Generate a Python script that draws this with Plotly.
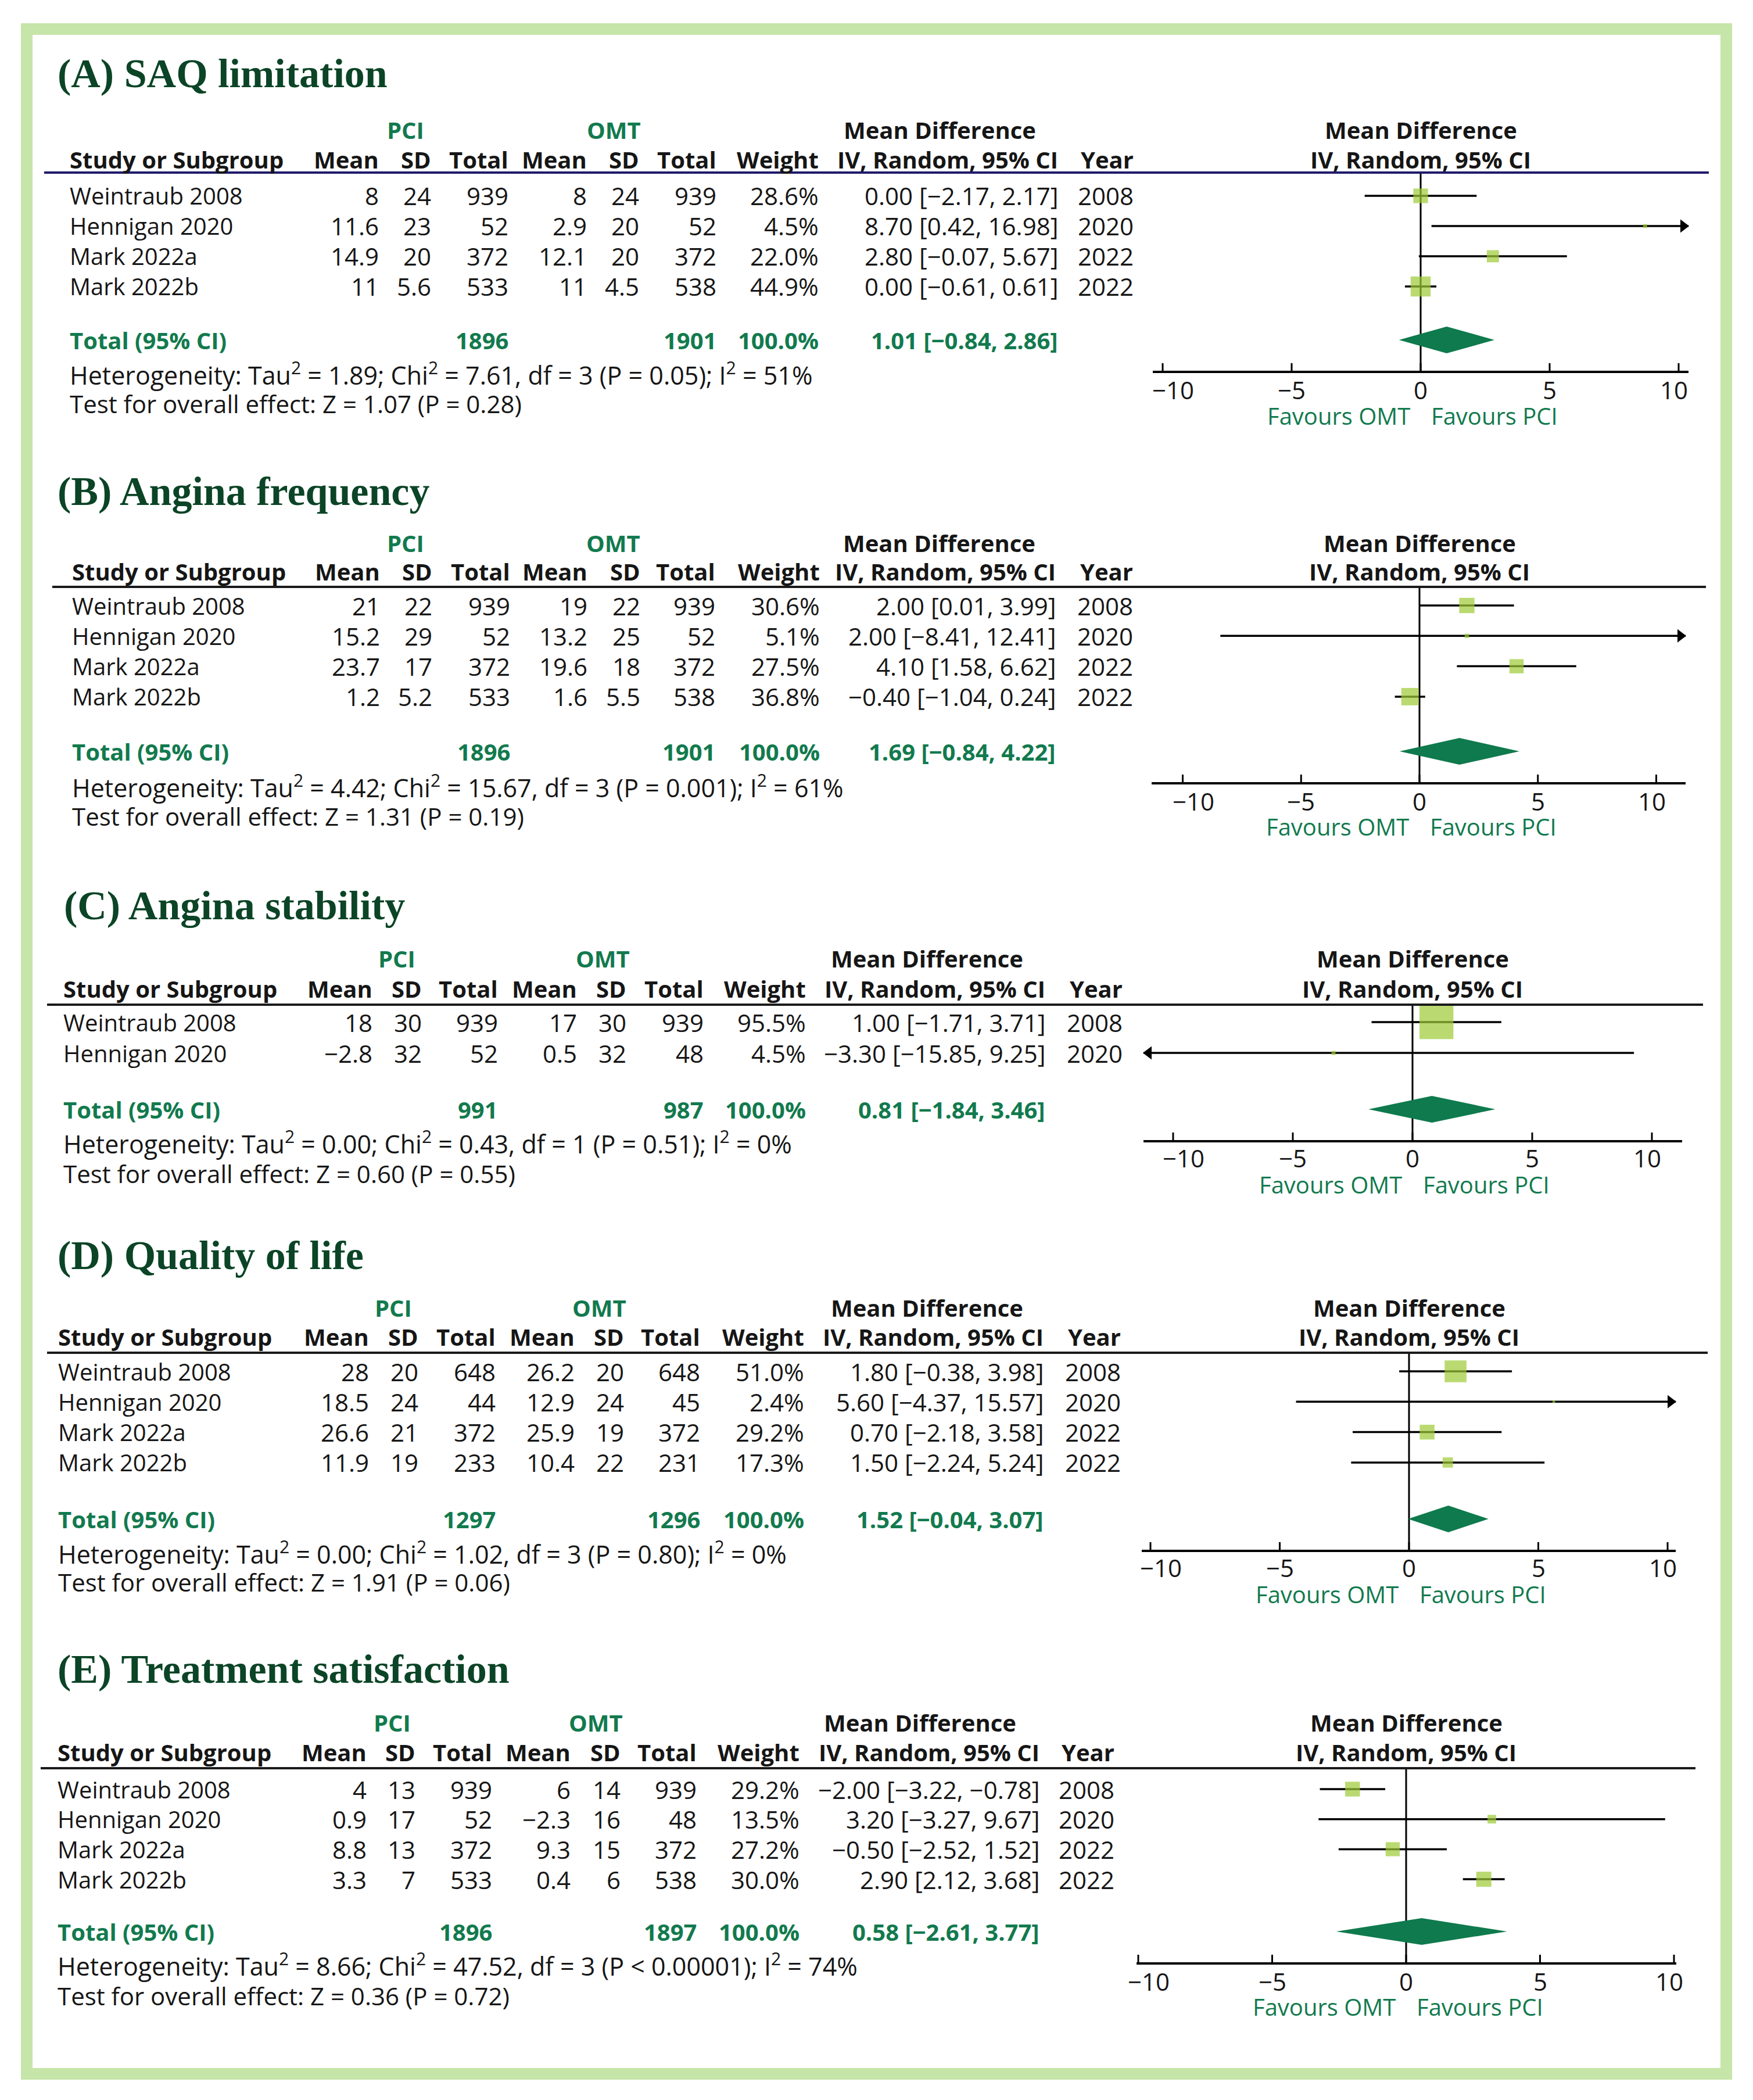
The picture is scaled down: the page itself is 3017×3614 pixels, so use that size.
import plotly.graph_objects as go

W, H = 3017, 3614

# ------------------------------------------------------------------ data
studies4 = ["Weintraub 2008", "Hennigan 2020", "Mark 2022a", "Mark 2022b"]
studies2 = ["Weintraub 2008", "Hennigan 2020"]
years4 = [2008, 2020, 2022, 2022]
years2 = [2008, 2020]
tick_vals = [-10, -5, 0, 5, 10]
tick_text = ["−10", "−5", "0", "5", "10"]

# (A) SAQ limitation
a_title = "(A) SAQ limitation"
a_pci_mean = [8, 11.6, 14.9, 11]
a_pci_sd = [24, 23, 20, 5.6]
a_pci_n = [939, 52, 372, 533]
a_omt_mean = [8, 2.9, 12.1, 11]
a_omt_sd = [24, 20, 20, 4.5]
a_omt_n = [939, 52, 372, 538]
a_weight = [28.6, 4.5, 22.0, 44.9]
a_md = [0.00, 8.70, 2.80, 0.00]
a_lo = [-2.17, 0.42, -0.07, -0.61]
a_hi = [2.17, 16.98, 5.67, 0.61]
a_total = [1896, 1901, 100.0, 1.01, -0.84, 2.86]
a_het = "Heterogeneity: Tau<sup>2</sup> = 1.89; Chi<sup>2</sup> = 7.61, df = 3 (P = 0.05); I<sup>2</sup> = 51%"
a_test = "Test for overall effect: Z = 1.07 (P = 0.28)"

# (B) Angina frequency
b_title = "(B) Angina frequency"
b_pci_mean = [21, 15.2, 23.7, 1.2]
b_pci_sd = [22, 29, 17, 5.2]
b_pci_n = [939, 52, 372, 533]
b_omt_mean = [19, 13.2, 19.6, 1.6]
b_omt_sd = [22, 25, 18, 5.5]
b_omt_n = [939, 52, 372, 538]
b_weight = [30.6, 5.1, 27.5, 36.8]
b_md = [2.00, 2.00, 4.10, -0.40]
b_lo = [0.01, -8.41, 1.58, -1.04]
b_hi = [3.99, 12.41, 6.62, 0.24]
b_total = [1896, 1901, 100.0, 1.69, -0.84, 4.22]
b_het = "Heterogeneity: Tau<sup>2</sup> = 4.42; Chi<sup>2</sup> = 15.67, df = 3 (P = 0.001); I<sup>2</sup> = 61%"
b_test = "Test for overall effect: Z = 1.31 (P = 0.19)"

# (C) Angina stability
c_title = "(C) Angina stability"
c_pci_mean = [18, -2.8]
c_pci_sd = [30, 32]
c_pci_n = [939, 52]
c_omt_mean = [17, 0.5]
c_omt_sd = [30, 32]
c_omt_n = [939, 48]
c_weight = [95.5, 4.5]
c_md = [1.00, -3.30]
c_lo = [-1.71, -15.85]
c_hi = [3.71, 9.25]
c_total = [991, 987, 100.0, 0.81, -1.84, 3.46]
c_het = "Heterogeneity: Tau<sup>2</sup> = 0.00; Chi<sup>2</sup> = 0.43, df = 1 (P = 0.51); I<sup>2</sup> = 0%"
c_test = "Test for overall effect: Z = 0.60 (P = 0.55)"

# (D) Quality of life
d_title = "(D) Quality of life"
d_pci_mean = [28, 18.5, 26.6, 11.9]
d_pci_sd = [20, 24, 21, 19]
d_pci_n = [648, 44, 372, 233]
d_omt_mean = [26.2, 12.9, 25.9, 10.4]
d_omt_sd = [20, 24, 19, 22]
d_omt_n = [648, 45, 372, 231]
d_weight = [51.0, 2.4, 29.2, 17.3]
d_md = [1.80, 5.60, 0.70, 1.50]
d_lo = [-0.38, -4.37, -2.18, -2.24]
d_hi = [3.98, 15.57, 3.58, 5.24]
d_total = [1297, 1296, 100.0, 1.52, -0.04, 3.07]
d_het = "Heterogeneity: Tau<sup>2</sup> = 0.00; Chi<sup>2</sup> = 1.02, df = 3 (P = 0.80); I<sup>2</sup> = 0%"
d_test = "Test for overall effect: Z = 1.91 (P = 0.06)"

# (E) Treatment satisfaction
e_title = "(E) Treatment satisfaction"
e_pci_mean = [4, 0.9, 8.8, 3.3]
e_pci_sd = [13, 17, 13, 7]
e_pci_n = [939, 52, 372, 533]
e_omt_mean = [6, -2.3, 9.3, 0.4]
e_omt_sd = [14, 16, 15, 6]
e_omt_n = [939, 48, 372, 538]
e_weight = [29.2, 13.5, 27.2, 30.0]
e_md = [-2.00, 3.20, -0.50, 2.90]
e_lo = [-3.22, -3.27, -2.52, 2.12]
e_hi = [-0.78, 9.67, 1.52, 3.68]
e_total = [1896, 1897, 100.0, 0.58, -2.61, 3.77]
e_het = "Heterogeneity: Tau<sup>2</sup> = 8.66; Chi<sup>2</sup> = 47.52, df = 3 (P &lt; 0.00001); I<sup>2</sup> = 74%"
e_test = "Test for overall effect: Z = 0.36 (P = 0.72)"

panels_data = [
    dict(title=a_title, study=studies4, year=years4, pm=a_pci_mean, ps=a_pci_sd, pn=a_pci_n,
         om=a_omt_mean, os=a_omt_sd, on=a_omt_n, w=a_weight, md=a_md, lo=a_lo, hi=a_hi,
         total=a_total, het=a_het, test=a_test),
    dict(title=b_title, study=studies4, year=years4, pm=b_pci_mean, ps=b_pci_sd, pn=b_pci_n,
         om=b_omt_mean, os=b_omt_sd, on=b_omt_n, w=b_weight, md=b_md, lo=b_lo, hi=b_hi,
         total=b_total, het=b_het, test=b_test),
    dict(title=c_title, study=studies2, year=years2, pm=c_pci_mean, ps=c_pci_sd, pn=c_pci_n,
         om=c_omt_mean, os=c_omt_sd, on=c_omt_n, w=c_weight, md=c_md, lo=c_lo, hi=c_hi,
         total=c_total, het=c_het, test=c_test),
    dict(title=d_title, study=studies4, year=years4, pm=d_pci_mean, ps=d_pci_sd, pn=d_pci_n,
         om=d_omt_mean, os=d_omt_sd, on=d_omt_n, w=d_weight, md=d_md, lo=d_lo, hi=d_hi,
         total=d_total, het=d_het, test=d_test),
    dict(title=e_title, study=studies4, year=years4, pm=e_pci_mean, ps=e_pci_sd, pn=e_pci_n,
         om=e_omt_mean, os=e_omt_sd, on=e_omt_n, w=e_weight, md=e_md, lo=e_lo, hi=e_hi,
         total=e_total, het=e_het, test=e_test),
]

# ------------------------------------------------------------------ layout (pixel positions)
panels_layout = [
    dict(title_x=97, title_y=127, group_y=224, head_y=274, line_y=297, row0=337, sp=52,
         total_y=585, het_y=643, test_y=694, axis_y=638, tl_y=671, fav_y=715,
         cols=dict(study=118, pm=654, ps=744, pn=877, om=1012, os=1102, on=1235, w=1411, ci=1823, yr=1953),
         pci_x=698, omt_x=1056, md_x=1617, line_x=(76, 2941), line_color="#1f1b6b",
         ax=(1984, 2906), zero=2445, ppu=44.4),
    dict(title_x=97, title_y=846, group_y=934, head_y=984, line_y=1010, row0=1042, sp=52.3,
         total_y=1293, het_y=1353, test_y=1404, axis_y=1346, tl_y=1378, fav_y=1422,
         cols=dict(study=122, pm=656, ps=746, pn=880, om=1013, os=1104, on=1233, w=1413, ci=1819, yr=1952),
         pci_x=698, omt_x=1055, md_x=1616, line_x=(90, 2936), line_color="#1a1a1a",
         ax=(1982, 2901), zero=2443, ppu=40.75),
    dict(title_x=108, title_y=1558, group_y=1650, head_y=1701, line_y=1729, row0=1759, sp=53,
         total_y=1909, het_y=1966, test_y=2019, axis_y=1962, tl_y=1992, fav_y=2038,
         cols=dict(study=107, pm=643, ps=728, pn=859, om=995, os=1080, on=1213, w=1389, ci=1801, yr=1934),
         pci_x=683, omt_x=1037, md_x=1595, line_x=(81, 2931), line_color="#1a1a1a",
         ax=(1968, 2895), zero=2431, ppu=41.2),
    dict(title_x=97, title_y=2160, group_y=2250, head_y=2300, line_y=2328, row0=2360, sp=52.3,
         total_y=2614, het_y=2672, test_y=2722, axis_y=2667, tl_y=2697, fav_y=2743,
         cols=dict(study=98, pm=637, ps=722, pn=855, om=991, os=1076, on=1207, w=1386, ci=1798, yr=1931),
         pci_x=677, omt_x=1031, md_x=1595, line_x=(81, 2939), line_color="#1a1a1a",
         ax=(1965, 2884), zero=2425, ppu=44.5),
    dict(title_x=97, title_y=2872, group_y=2964, head_y=3015, line_y=3043, row0=3079, sp=51.7,
         total_y=3324, het_y=3381, test_y=3434, axis_y=3377, tl_y=3409, fav_y=3453,
         cols=dict(study=97, pm=633, ps=717, pn=849, om=984, os=1070, on=1201, w=1378, ci=1791, yr=1920),
         pci_x=675, omt_x=1026, md_x=1584, line_x=(70, 2918), line_color="#1a1a1a",
         ax=(1956, 2885), zero=2420, ppu=46.1),
]

GREEN = "#127a4e"
TITLE_GREEN = "#0b4426"
SQ = "#9dcb35"
DIAM = "#0f7a4d"
TXT = "#161616"
FONT = "Open Sans"
FS = 40        # labels / names
FN = 42        # numbers, statistics lines, tick labels
FH = 43        # heterogeneity line
OFF = 8        # page body margin compensation (px)
tick_label_shift = [18, 0, 0, 0, -8]


def num(v):
    return f"{v:g}".replace("-", "−")


def ci_text(m, l, h):
    return f"{m:.2f} [{l:.2f}, {h:.2f}]".replace("-", "−")


def px(x):
    return (x - OFF) / W


def py(y):
    return 1 - (y - OFF) / H


fig = go.Figure()
annotations = []
shapes = []


def txt(x, y, s, anchor="left", size=FS, color=TXT, bold=False, family=FONT,
        xref="paper", yref="paper", xshift=0):
    annotations.append(dict(
        x=x, y=y, xref=xref, yref=yref, text=(f"<b>{s}</b>" if bold else s),
        showarrow=False, xanchor=anchor, yanchor="middle", xshift=xshift,
        font=dict(family=family, size=size, color=color)))


# frame
shapes.append(dict(type="rect", xref="paper", yref="paper",
                   x0=px(46), x1=px(2971), y0=py(50), y1=py(3569),
                   line=dict(color="#c6e5a8", width=20), layer="below"))

for k, (d, L) in enumerate(zip(panels_data, panels_layout), start=1):
    xa = "x" if k == 1 else f"x{k}"
    ya = "y" if k == 1 else f"y{k}"
    c = L["cols"]
    n = len(d["study"])

    def r(p, L=L):
        return (p - L["row0"]) / L["sp"]

    xmin = (L["ax"][0] - L["zero"]) / L["ppu"]
    xmax = (L["ax"][1] - L["zero"]) / L["ppu"]
    r_axis, r_line, r_tot = r(L["axis_y"]), r(L["line_y"]), r(L["total_y"])

    # --- titles & headers
    txt(px(L["title_x"]), py(L["title_y"]), d["title"], size=70, color=TITLE_GREEN,
        bold=True, family="Liberation Serif")
    txt(px(L["pci_x"]), py(L["group_y"]), "PCI", "center", color=GREEN, bold=True)
    txt(px(L["omt_x"]), py(L["group_y"]), "OMT", "center", color=GREEN, bold=True)
    txt(px(L["md_x"]), py(L["group_y"]), "Mean Difference", "center", bold=True)
    hy = py(L["head_y"])
    txt(px(c["study"]), hy, "Study or Subgroup", "left", bold=True)
    for key, lab in [("pm", "Mean"), ("ps", "SD"), ("pn", "Total"), ("om", "Mean"),
                     ("os", "SD"), ("on", "Total"), ("w", "Weight"),
                     ("ci", "IV, Random, 95% CI"), ("yr", "Year")]:
        txt(px(c[key]), hy, lab, "right", bold=True)
    txt(0, py(L["group_y"]), "Mean Difference", "center", bold=True, xref=xa)
    txt(0, hy, "IV, Random, 95% CI", "center", bold=True, xref=xa)

    shapes.append(dict(type="line", xref="paper", yref="paper",
                       x0=px(L["line_x"][0]), x1=px(L["line_x"][1]),
                       y0=py(L["line_y"]), y1=py(L["line_y"]),
                       line=dict(color=L["line_color"], width=4)))

    # --- study rows
    for i in range(n):
        txt(px(c["study"]), i, d["study"][i], "left", yref=ya)
        txt(px(c["pm"]), i, num(d["pm"][i]), "right", size=FN, yref=ya)
        txt(px(c["ps"]), i, num(d["ps"][i]), "right", size=FN, yref=ya)
        txt(px(c["pn"]), i, str(d["pn"][i]), "right", size=FN, yref=ya)
        txt(px(c["om"]), i, num(d["om"][i]), "right", size=FN, yref=ya)
        txt(px(c["os"]), i, num(d["os"][i]), "right", size=FN, yref=ya)
        txt(px(c["on"]), i, str(d["on"][i]), "right", size=FN, yref=ya)
        txt(px(c["w"]), i, f"{d['w'][i]:.1f}%", "right", size=FN, yref=ya)
        txt(px(c["ci"]), i, ci_text(d["md"][i], d["lo"][i], d["hi"][i]), "right", size=FN, yref=ya)
        txt(px(c["yr"]), i, str(d["year"][i]), "right", size=FN, yref=ya)

    # --- total row
    t = d["total"]
    txt(px(c["study"]), r_tot, "Total (95% CI)", "left", color=GREEN, bold=True, yref=ya)
    txt(px(c["pn"]), r_tot, str(t[0]), "right", color=GREEN, bold=True, yref=ya)
    txt(px(c["on"]), r_tot, str(t[1]), "right", color=GREEN, bold=True, yref=ya)
    txt(px(c["w"]), r_tot, f"{t[2]:.1f}%", "right", color=GREEN, bold=True, yref=ya)
    txt(px(c["ci"]), r_tot, ci_text(t[3], t[4], t[5]), "right", color=GREEN, bold=True, yref=ya)
    txt(px(c["study"]), py(L["het_y"]), d["het"], "left", size=FH)
    txt(px(c["study"]), py(L["test_y"]), d["test"], "left", size=FN)

    # tick labels & favours labels
    for v, s, sh in zip(tick_vals, tick_text, tick_label_shift):
        txt(v, py(L["tl_y"]), s, "center", size=FN, xref=xa, xshift=sh)
    txt(0, py(L["fav_y"]), "Favours OMT", "right", color=GREEN, xref=xa, xshift=-16)
    txt(0, py(L["fav_y"]), "Favours PCI", "left", color=GREEN, xref=xa, xshift=16)

    # --- forest marks
    lx, ly = [], []
    for i in range(n):
        lx += [max(d["lo"][i], xmin), min(d["hi"][i], xmax), None]
        ly += [i, i, None]
    fig.add_trace(go.Scatter(x=lx, y=ly, mode="lines", line=dict(color="black", width=3.5),
                             xaxis=xa, yaxis=ya, hoverinfo="skip", showlegend=False))
    # arrows for truncated CIs
    ar_x, ar_y, ar_s = [], [], []
    half = 9 / L["ppu"]
    for i in range(n):
        if d["hi"][i] > xmax:
            ar_x.append(xmax - half); ar_y.append(i); ar_s.append("triangle-right")
        if d["lo"][i] < xmin:
            ar_x.append(xmin + half); ar_y.append(i); ar_s.append("triangle-left")
    if ar_x:
        fig.add_trace(go.Scatter(x=ar_x, y=ar_y, mode="markers",
                                 marker=dict(symbol=ar_s, size=20, color="black", line=dict(width=0)),
                                 xaxis=xa, yaxis=ya, hoverinfo="skip", showlegend=False, cliponaxis=False))
    # zero line
    fig.add_trace(go.Scatter(x=[0, 0], y=[r_line, r_axis], mode="lines",
                             line=dict(color="black", width=3), xaxis=xa, yaxis=ya,
                             hoverinfo="skip", showlegend=False))
    # squares
    fig.add_trace(go.Scatter(x=d["md"], y=list(range(n)), mode="markers",
                             marker=dict(symbol="square", color=SQ, line=dict(width=0),
                                         size=[2.4 * w ** 0.7 for w in d["w"]]),
                             xaxis=xa, yaxis=ya, hoverinfo="skip", showlegend=False, cliponaxis=False))
    # diamond
    hh = 23 / L["sp"]
    fig.add_trace(go.Scatter(x=[t[4], t[3], t[5], t[3], t[4]],
                             y=[r_tot, r_tot - hh, r_tot, r_tot + hh, r_tot],
                             mode="lines", fill="toself", fillcolor=DIAM, line=dict(width=0, color=DIAM),
                             xaxis=xa, yaxis=ya, hoverinfo="skip", showlegend=False))
    # crossing ticks
    tx, ty = [], []
    for v in tick_vals:
        tx += [v, v, None]
        ty += [r_axis - 13 / L["sp"], r_axis + 13 / L["sp"], None]
    fig.add_trace(go.Scatter(x=tx, y=ty, mode="lines", line=dict(color="black", width=3),
                             xaxis=xa, yaxis=ya, hoverinfo="skip", showlegend=False, cliponaxis=False))

    fig.update_layout(**{
        ("xaxis" if k == 1 else f"xaxis{k}"): dict(
            domain=[px(L["ax"][0]), px(L["ax"][1])], range=[xmin, xmax], anchor=ya,
            showline=True, linecolor="black", linewidth=4, ticks="", showticklabels=False,
            showgrid=False, zeroline=False, fixedrange=True, automargin=False),
        ("yaxis" if k == 1 else f"yaxis{k}"): dict(
            domain=[py(L["axis_y"]), py(L["line_y"])], range=[r_axis, r_line], anchor=xa,
            visible=False, showgrid=False, zeroline=False, fixedrange=True, automargin=False),
    })

fig.update_layout(width=W, height=H,
                  margin=dict(l=0, r=0, t=0, b=0, pad=0, autoexpand=False),
                  paper_bgcolor="white", plot_bgcolor="rgba(0,0,0,0)",
                  annotations=annotations, shapes=shapes, showlegend=False)

fig.write_html("out.html", config={"displayModeBar": False})
